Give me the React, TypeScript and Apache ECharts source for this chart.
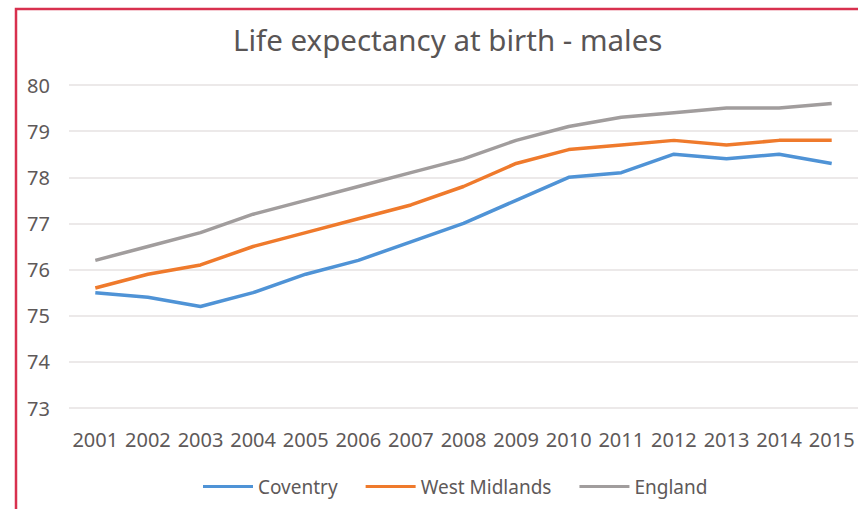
import React, { useEffect, useRef } from "react";
import * as echarts from "echarts";

const years = ["2001", "2002", "2003", "2004", "2005", "2006", "2007", "2008", "2009", "2010", "2011", "2012", "2013", "2014", "2015"];
const coventry = [75.5, 75.4, 75.2, 75.5, 75.9, 76.2, 76.6, 77.0, 77.5, 78.0, 78.1, 78.5, 78.4, 78.5, 78.3];
const westMidlands = [75.6, 75.9, 76.1, 76.5, 76.8, 77.1, 77.4, 77.8, 78.3, 78.6, 78.7, 78.8, 78.7, 78.8, 78.8];
const england = [76.2, 76.5, 76.8, 77.2, 77.5, 77.8, 78.1, 78.4, 78.8, 79.1, 79.3, 79.4, 79.5, 79.5, 79.6];

const FONT = "'Noto Sans', 'Open Sans', sans-serif";
const TEXT = "#5e5959";

export default function App() {
  const ref = useRef<HTMLDivElement>(null);

  useEffect(() => {
    if (!ref.current) return;
    const chart = echarts.init(ref.current, undefined, { renderer: "svg" });
    const line = (name: string, data: number[], color: string) => ({
      name,
      type: "line",
      data,
      symbol: "none",
      lineStyle: { color, width: 3.5 },
      itemStyle: { color },
    });
    chart.setOption({
      animation: false,
      backgroundColor: "#ffffff",
      title: {
        text: "Life expectancy at birth - males",
        left: 228,
        top: 19,
        textStyle: { fontFamily: FONT, fontSize: 29.5, fontWeight: "normal", color: "#595555" },
      },
      grid: { left: 69, right: 0, top: 85, bottom: 101 },
      xAxis: {
        type: "category",
        data: years,
        boundaryGap: true,
        axisLine: { show: false },
        axisTick: { show: false },
        axisLabel: { fontFamily: FONT, fontSize: 20, color: TEXT, margin: 21, interval: 0 },
      },
      yAxis: {
        type: "value",
        min: 73,
        max: 80,
        interval: 1,
        axisLabel: { fontFamily: FONT, fontSize: 20, color: TEXT, margin: 19 },
        splitLine: { lineStyle: { color: "#e6e2e2", width: 1.5 } },
      },
      legend: {
        bottom: 8,
        left: 198,
        icon: "rect",
        itemWidth: 50,
        itemHeight: 3,
        itemGap: 28,
        textStyle: { fontFamily: FONT, fontSize: 19, color: TEXT },
        data: ["Coventry", "West Midlands", "England"],
      },
      graphic: [
        {
          type: "rect",
          shape: { x: 16, y: 9, width: 900, height: 600 },
          style: { fill: "none", stroke: "#d8304e", lineWidth: 2.5 },
          silent: true,
        },
      ],
      series: [
        line("Coventry", coventry, "#4f93d6"),
        line("West Midlands", westMidlands, "#ef7a2c"),
        line("England", england, "#a19d9d"),
      ],
    });
    return () => chart.dispose();
  }, []);

  return (
    <div
      ref={ref}
      style={{ position: "fixed", left: 0, top: 0, width: 858, height: 509 }}
    />
  );
}
